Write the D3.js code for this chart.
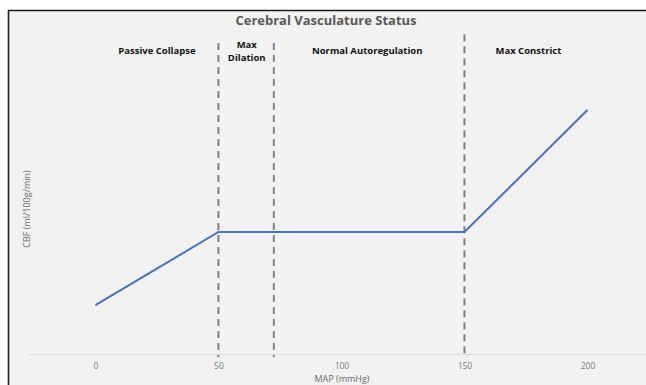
<!DOCTYPE html>
<html>
<head>
<meta charset="utf-8">
<script src="https://cdn.jsdelivr.net/npm/d3@7"></script>
<style>
html,body{margin:0;padding:0;background:#fff;}
svg{display:block;}
</style>
</head>
<body>
<svg id="chart" width="646" height="385"></svg>
<script>
// Data
const mapValues = [0, 50, 150, 200];
const cbfValues = [20, 50, 50, 100];
const tickValues = [0, 50, 100, 150, 200];
const tickLabels = ["0", "50", "100", "150", "200"];
const boundaryMap = [50, 72.5, 150];
const boundaryTop = [127.5, 127.5, 131];
const boundaryColors = ["#7f7f7f", "#7d8799", "#7f7f7f"];
const regionNames = [["Passive Collapse"], ["Max", "Dilation"], ["Normal Autoregulation"], ["Max Constrict"]];
const regionCenters = [25, 61.5, 110.5, 176];
const title = "Cerebral Vasculature Status";
const xTitle = "MAP (mmHg)";
const yTitle = "CBF (ml/100g/min)";

const svg = d3.select("#chart");
const W = 646, H = 385;

// Frame
svg.append("rect").attr("x", 8).attr("y", 10).attr("width", W - 8).attr("height", H - 10).attr("fill", "#f2f2f2");
svg.append("path").attr("d", `M8.5,${H} V10.5 H${W}`).attr("fill", "none").attr("stroke", "#1e1e1e").attr("stroke-width", 1.6);

const x = d3.scaleLinear().domain([-27, 224]).range([29, 646.5]);
const y = d3.scaleLinear().domain([0, 100]).range([354, 110]);

// X axis
const xAxis = d3.axisBottom(x).tickValues(tickValues).tickFormat((d, i) => tickLabels[i]).tickSize(0).tickPadding(9);
const gx = svg.append("g").attr("transform", `translate(0,${y(0)})`).call(xAxis);
gx.select(".domain").attr("stroke", "#d9d9d9").attr("stroke-width", 1);
gx.selectAll("text").attr("fill", "#7a7a7a").attr("font-family", "'Open Sans', sans-serif").attr("font-size", 8.5);

// Boundaries
svg.append("g").selectAll("line").data(boundaryMap).join("line")
  .attr("x1", d => x(d)).attr("x2", d => x(d))
  .attr("y1", (d, i) => y(boundaryTop[i])).attr("y2", y(-1.3))
  .attr("stroke", (d, i) => boundaryColors[i]).attr("stroke-width", 2)
  .attr("stroke-dasharray", "7,5");

// Line
const line = d3.line().x((d, i) => x(mapValues[i])).y(d => y(d));
svg.append("path").datum(cbfValues).attr("d", line)
  .attr("fill", "none").attr("stroke", "#4472c4").attr("stroke-width", 2);

// Region labels
const rg = svg.append("g");
regionNames.forEach((lines, i) => {
  const t = rg.append("text").attr("x", x(regionCenters[i])).attr("text-anchor", "middle")
    .attr("font-family", "'Open Sans', sans-serif").attr("font-weight", "bold").attr("font-size", 9.5).attr("fill", "#111");
  const y0 = lines.length === 1 ? 54 : 48;
  lines.forEach((s, j) => t.append("tspan").attr("x", x(regionCenters[i])).attr("y", y0 + j * 13).text(s));
});

// Title
svg.append("text").attr("x", 326).attr("y", 25).attr("text-anchor", "middle")
  .attr("font-family", "'Open Sans', sans-serif").attr("font-weight", "bold").attr("font-size", 13)
  .attr("fill", "#595959").text(title);

// Axis titles
svg.append("text").attr("x", 342).attr("y", 382).attr("text-anchor", "middle")
  .attr("font-family", "'Open Sans', sans-serif").attr("font-size", 9).attr("fill", "#6a6a6a").text(xTitle);
svg.append("text").attr("transform", "translate(30,209) rotate(-90)").attr("text-anchor", "middle")
  .attr("font-family", "'Open Sans', sans-serif").attr("font-size", 9).attr("fill", "#6a6a6a").text(yTitle);
</script>
</body>
</html>
